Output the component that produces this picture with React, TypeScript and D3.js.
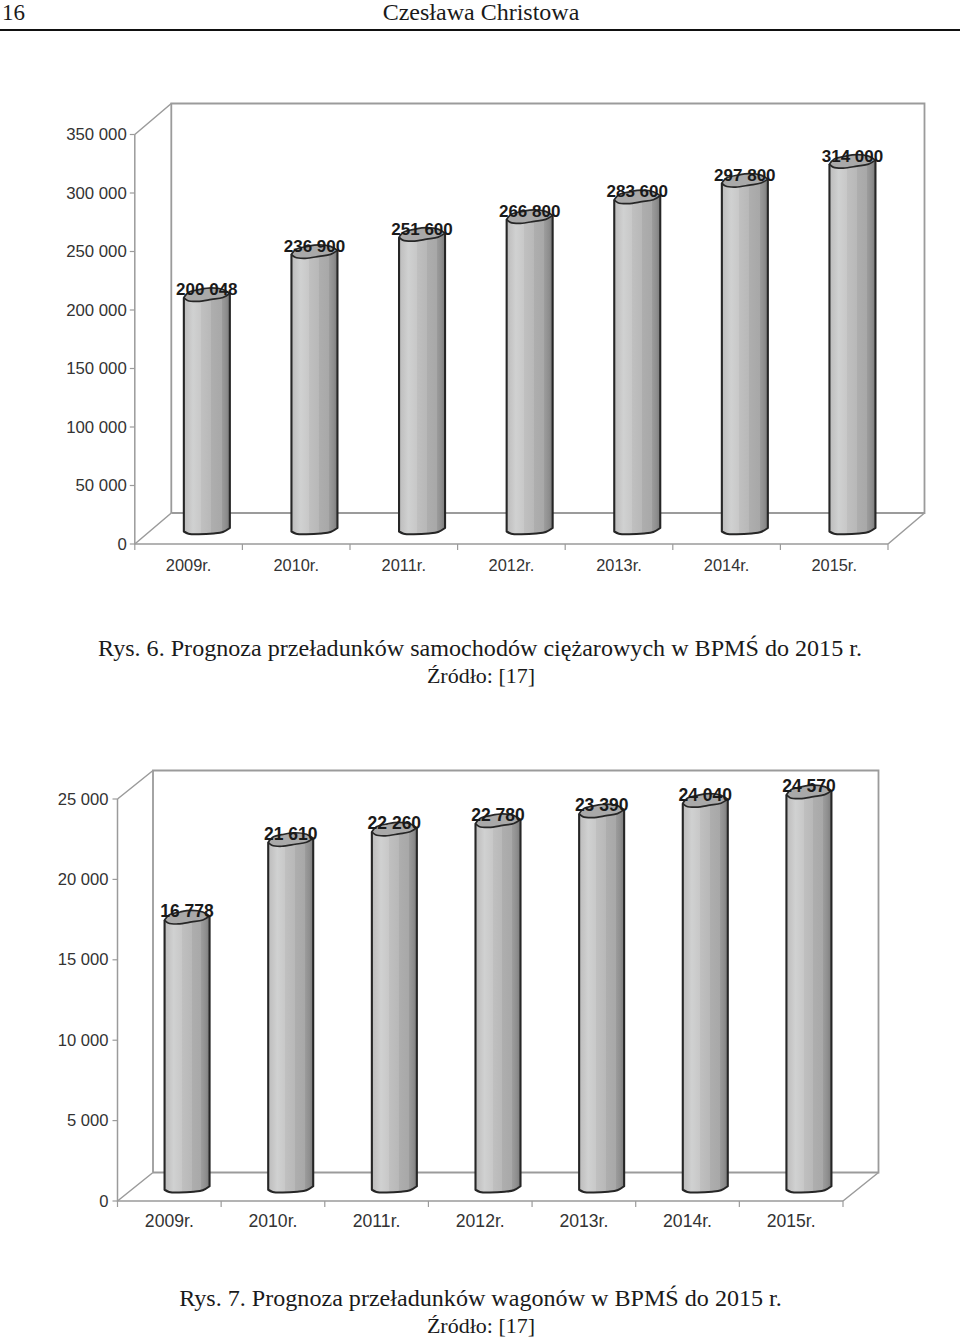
import * as d3 from "d3";

const years = ["2009r.", "2010r.", "2011r.", "2012r.", "2013r.", "2014r.", "2015r."];

const truckValues = [200048, 236900, 251600, 266800, 283600, 297800, 314000];
const truckTicks = [0, 50000, 100000, 150000, 200000, 250000, 300000, 350000];

const wagonValues = [16778, 21610, 22260, 22780, 23390, 24040, 24570];
const wagonTicks = [0, 5000, 10000, 15000, 20000, 25000];

// wobbly hand-drawn outline of the cylinders: [fraction of width, px from centre line]
const capLower = [[0, 3], [0.08, 6], [0.3, 7], [0.6, 5], [0.85, 3], [1, -1]];
const capUpper = [[1, -1], [0.85, -5], [0.6, -6.5], [0.35, -5], [0.1, -2], [0, 3]];
const baseEdge = [[0, 3], [0.1, 5.2], [0.3, 5.8], [0.65, 5], [0.85, 3.5], [1, -0.5]];

const shade = [
  [0, "#bcbcbc"], [0.12, "#c8c8c8"], [0.2, "#d0d1d1"], [0.38, "#c8c8c8"], [0.38, "#c0c0c0"],
  [0.6, "#b8b8b8"], [0.6, "#aeaeae"], [0.82, "#a8a8a8"], [0.82, "#9c9c9c"], [0.92, "#8e8e8e"], [1, "#7a7a7a"],
] as const;

const SANS = "'Liberation Sans', Arial, sans-serif";
const SERIF = "'Liberation Serif', 'Times New Roman', serif";
const spaced = (v: number) => d3.format(",")(v).replace(",", " ");
const wobble = d3.line().curve(d3.curveCatmullRom.alpha(0.5));

type ChartProps = {
  values: number[];
  ticks: number[];
  left: number; right: number; top: number; bottom: number;
  dx: number; dy: number;
  barWidth: number;
  tickLabelGap: number;
  yearY: number;
  tickSize: number; yearSize: number; labelSize: number;
};

function Chart3D({ values, ticks, left, right, top, bottom, dx, dy, barWidth, tickLabelGap, yearY, tickSize, yearSize, labelSize }: ChartProps) {
  const x = d3.scaleBand<string>().domain(years).range([left, right]);
  const y = d3.scaleLinear().domain([0, d3.max(ticks)!]).range([bottom, top]);
  const edges = [...years.map((d) => x(d)!), right];

  return (
    <g>
      {/* walls */}
      <g fill="none" stroke="#9b9b9b">
        <path strokeWidth={1.8} d={`M${left + dx},${bottom + dy}V${top + dy}H${right + dx}V${bottom + dy}H${left + dx}`} />
        <path strokeWidth={1.5} d={`M${left},${top}L${left + dx},${top + dy}M${left},${bottom}L${left + dx},${bottom + dy}M${right},${bottom}L${right + dx},${bottom + dy}`} />
        <path strokeWidth={1.5} d={`M${left},${top}V${bottom}H${right}`} />
        {ticks.map((t) => <path key={t} strokeWidth={1.2} d={`M${left - 5},${y(t)}H${left}`} />)}
        {edges.map((e) => <path key={e} strokeWidth={1.2} d={`M${e},${bottom}V${bottom + 6}`} />)}
      </g>

      {ticks.map((t) => (
        <text key={t} x={left - tickLabelGap} y={y(t) + 5.5} textAnchor="end" fontFamily={SANS} fontSize={tickSize} fill="#333">
          {spaced(t)}
        </text>
      ))}
      {years.map((d) => (
        <text key={d} x={x(d)! + x.bandwidth() / 2} y={yearY} textAnchor="middle" fontFamily={SANS} fontSize={yearSize} fill="#333">
          {d}
        </text>
      ))}

      {/* bars */}
      {values.map((v, i) => {
        const cx = x(years[i])! + x.bandwidth() / 2 + dx / 2;
        const x0 = cx - barWidth / 2;
        const yTop = y(v) + dy / 2;
        const yBase = bottom + dy / 2;
        const pts = (edge: number[][], cy: number) =>
          edge.map(([f, o]) => [x0 + f * barWidth, cy + o] as [number, number]);
        const body = `M${x0},${yTop + 3}L${wobble(pts(baseEdge, yBase))!.slice(1)}L${x0 + barWidth},${yTop - 1}`;
        const cap = `${wobble(pts(capLower, yTop))}L${wobble(pts(capUpper, yTop))!.slice(1)}Z`;
        return (
          <g key={years[i]} stroke="#262626" strokeWidth={2.1} strokeLinejoin="round">
            <path d={body} fill="url(#cylinder)" />
            <path d={cap} fill="#a9a9a9" strokeWidth={1.7} />
          </g>
        );
      })}

      {values.map((v, i) => (
        <text
          key={years[i]}
          x={x(years[i])! + x.bandwidth() / 2 + dx / 2}
          y={y(v) + dy / 2 + 0.5}
          textAnchor="middle"
          fontFamily={SANS}
          fontSize={labelSize}
          fontWeight="bold"
          fill="#1a1a1a"
        >
          {spaced(v)}
        </text>
      ))}
    </g>
  );
}

export default function App() {
  return (
    <svg width={960} height={1337} viewBox="0 0 960 1337" style={{ position: "absolute", left: 0, top: 0, display: "block", background: "#fff" }}>
      <defs>
        <linearGradient id="cylinder" x1="0" x2="1" y1="0" y2="0">
          {shade.map(([o, c], i) => <stop key={i} offset={o} stopColor={c} />)}
        </linearGradient>
      </defs>

      <g fontFamily={SERIF} fill="#1a1a1a">
        <text x={2} y={20} fontSize={23}>16</text>
        <text x={481} y={20} fontSize={24} textAnchor="middle">Czesława Christowa</text>
      </g>
      <rect x={0} y={29} width={960} height={2} fill="#111" />

      <Chart3D values={truckValues} ticks={truckTicks} left={134.8} right={888} top={134.5} bottom={544}
        dx={36.5} dy={-31} barWidth={46} tickLabelGap={8} yearY={571} tickSize={16.8} yearSize={16.4} labelSize={17} />

      <g fontFamily={SERIF} fill="#1a1a1a" textAnchor="middle">
        <text x={480} y={656} fontSize={24.1}>Rys. 6. Prognoza przeładunków samochodów ciężarowych w BPMŚ do 2015 r.</text>
        <text x={481} y={683} fontSize={22}>Źródło: [17]</text>
      </g>

      <Chart3D values={wagonValues} ticks={wagonTicks} left={117.5} right={843} top={799} bottom={1201}
        dx={35.5} dy={-28.5} barWidth={45} tickLabelGap={9} yearY={1227} tickSize={16.6} yearSize={17.6} labelSize={17.5} />

      <g fontFamily={SERIF} fill="#1a1a1a" textAnchor="middle">
        <text x={480.5} y={1306} fontSize={24.1}>Rys. 7. Prognoza przeładunków wagonów w BPMŚ do 2015 r.</text>
        <text x={481} y={1333} fontSize={22}>Źródło: [17]</text>
      </g>
    </svg>
  );
}
